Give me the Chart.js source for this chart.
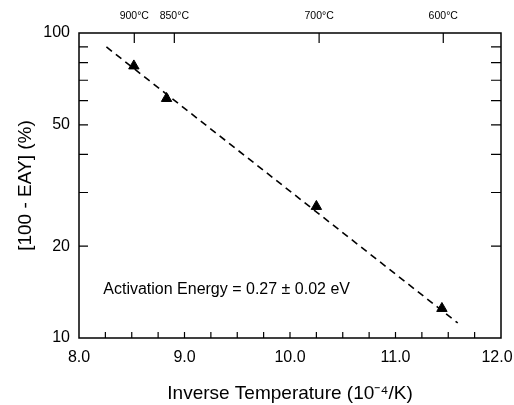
<!DOCTYPE html>
<html>
<head>
<meta charset="utf-8">
<script src="https://cdn.jsdelivr.net/npm/chart.js@4"></script>
<style>
  html, body { margin: 0; padding: 0; background: #fff; }
  #wrap { width: 514px; height: 405px; }
</style>
</head>
<body>
<div id="wrap"><canvas id="grafico"></canvas></div>
<script>
// measured points
var invTemp = [8.52, 8.83, 10.25, 11.44];
var eayRest = [78, 61, 27, 12.5];

// dashed fit line end points
var fitX = [8.26, 11.59];
var fitY = [90, 11.2];

// axis ticks
var xLabels = [8, 9, 10, 11, 12];
var xMinor = [8.25, 8.5, 8.75, 9, 9.25, 9.5, 9.75, 10, 10.25, 10.5, 10.75, 11, 11.25, 11.5, 11.75];
var yLabels = [10, 20, 50, 100];
var yMinor = [20, 30, 40, 50, 60, 70, 80, 90];
var topTemps = [900, 850, 700, 600]; // °C

var note = 'Activation Energy = 0.27 \u00b1 0.02 eV';
var noteAt = { x: 8.23, y: 14.4 };

var FONT = "'Liberation Sans', Arial, Helvetica, sans-serif";
Chart.defaults.font.family = FONT;
Chart.defaults.color = '#000';

function toInv(c) { return 10000 / (c + 273.15); }

// frame, inward ticks and the note
var marcoPlugin = {
    id: 'marco',
    afterDraw: function(chart) {
        var ctx = chart.ctx, a = chart.chartArea;
        var sx = chart.scales.x, sy = chart.scales.y;
        ctx.save();
        ctx.strokeStyle = '#000';
        ctx.lineWidth = 1.5;
        ctx.strokeRect(a.left, a.top, a.right - a.left, a.bottom - a.top);
        ctx.lineWidth = 1.2;
        ctx.beginPath();
        xMinor.forEach(function(v) {
            var px = sx.getPixelForValue(v);
            ctx.moveTo(px, a.bottom); ctx.lineTo(px, a.bottom - 6);
        });
        topTemps.forEach(function(t) {
            var px = sx.getPixelForValue(toInv(t));
            ctx.moveTo(px, a.top); ctx.lineTo(px, a.top + 10);
        });
        yMinor.forEach(function(v) {
            var py = sy.getPixelForValue(v);
            ctx.moveTo(a.left, py); ctx.lineTo(a.left + 9, py);
            ctx.moveTo(a.right, py); ctx.lineTo(a.right - 10, py);
        });
        ctx.stroke();
        ctx.fillStyle = '#000';
        ctx.font = '16px ' + FONT;
        ctx.textBaseline = 'middle';
        ctx.fillText(note, sx.getPixelForValue(noteAt.x), sy.getPixelForValue(noteAt.y));
        ctx.restore();
    }
};

function sinRelleno(s) { s.paddingLeft = 0; s.paddingRight = 0; }

new Chart(document.getElementById('grafico').getContext('2d'), {
    type: 'scatter',
    data: {
        datasets: [{
            label: 'datos',
            data: invTemp.map(function(x, i) { return { x: x, y: eayRest[i] }; }),
            pointStyle: 'triangle',
            pointRadius: 6,
            backgroundColor: '#000',
            borderColor: '#000',
            borderWidth: 1
        }, {
            label: 'ajuste',
            type: 'line',
            data: fitX.map(function(x, i) { return { x: x, y: fitY[i] }; }),
            borderColor: '#000',
            borderWidth: 1.6,
            borderDash: [7, 5],
            pointRadius: 0,
            fill: false
        }]
    },
    options: {
        responsive: true,
        maintainAspectRatio: false,
        animation: false,
        layout: { padding: { left: 0, right: 13, top: 0, bottom: 0 } },
        plugins: { legend: { display: false }, tooltip: { enabled: false } },
        scales: {
            x: {
                type: 'linear', position: 'bottom', min: 8, max: 12,
                afterBuildTicks: function(s) { s.ticks = xLabels.map(function(v) { return { value: v }; }); },
                afterFit: function(s) { s.height = 67; sinRelleno(s); },
                grid: { display: false, drawTicks: false },
                border: { display: false },
                ticks: {
                    padding: 10, maxRotation: 0, autoSkip: false,
                    font: { size: 16 },
                    callback: function(v, i) {
                        // last label sits against the edge, nudge it left like the original
                        return Number(v).toFixed(1) + (i === xLabels.length - 1 ? '\u2002' : '');
                    }
                },
                title: {
                    display: true,
                    text: 'Inverse Temperature (10\u207b\u2074/K)',
                    font: { size: 19 },
                    padding: { top: 0, bottom: 0 }
                }
            },
            x2: {
                type: 'linear', position: 'top', min: 8, max: 12,
                afterBuildTicks: function(s) { s.ticks = topTemps.map(function(t) { return { value: toInv(t) }; }); },
                afterFit: function(s) { s.height = 33; sinRelleno(s); },
                grid: { display: false, drawTicks: false },
                border: { display: false },
                ticks: {
                    padding: 11, maxRotation: 0, autoSkip: false,
                    font: { size: 10.5 },
                    callback: function(v, i) { return topTemps[i] + '\u00b0C'; }
                }
            },
            y: {
                type: 'logarithmic', position: 'left', min: 10, max: 100,
                afterBuildTicks: function(s) { s.ticks = yLabels.map(function(v) { return { value: v }; }); },
                afterFit: function(s) { s.width = 79; s.paddingTop = 0; s.paddingBottom = 0; },
                grid: { display: false, drawTicks: false },
                border: { display: false },
                ticks: {
                    padding: 9, autoSkip: false,
                    font: { size: 16 },
                    callback: function(v) { return String(v); }
                },
                title: {
                    display: true,
                    text: '[100 - EAY] (%)',
                    font: { size: 19 },
                    padding: { top: 14, bottom: 0 }
                }
            }
        }
    },
    plugins: [marcoPlugin]
});
</script>
</body>
</html>
